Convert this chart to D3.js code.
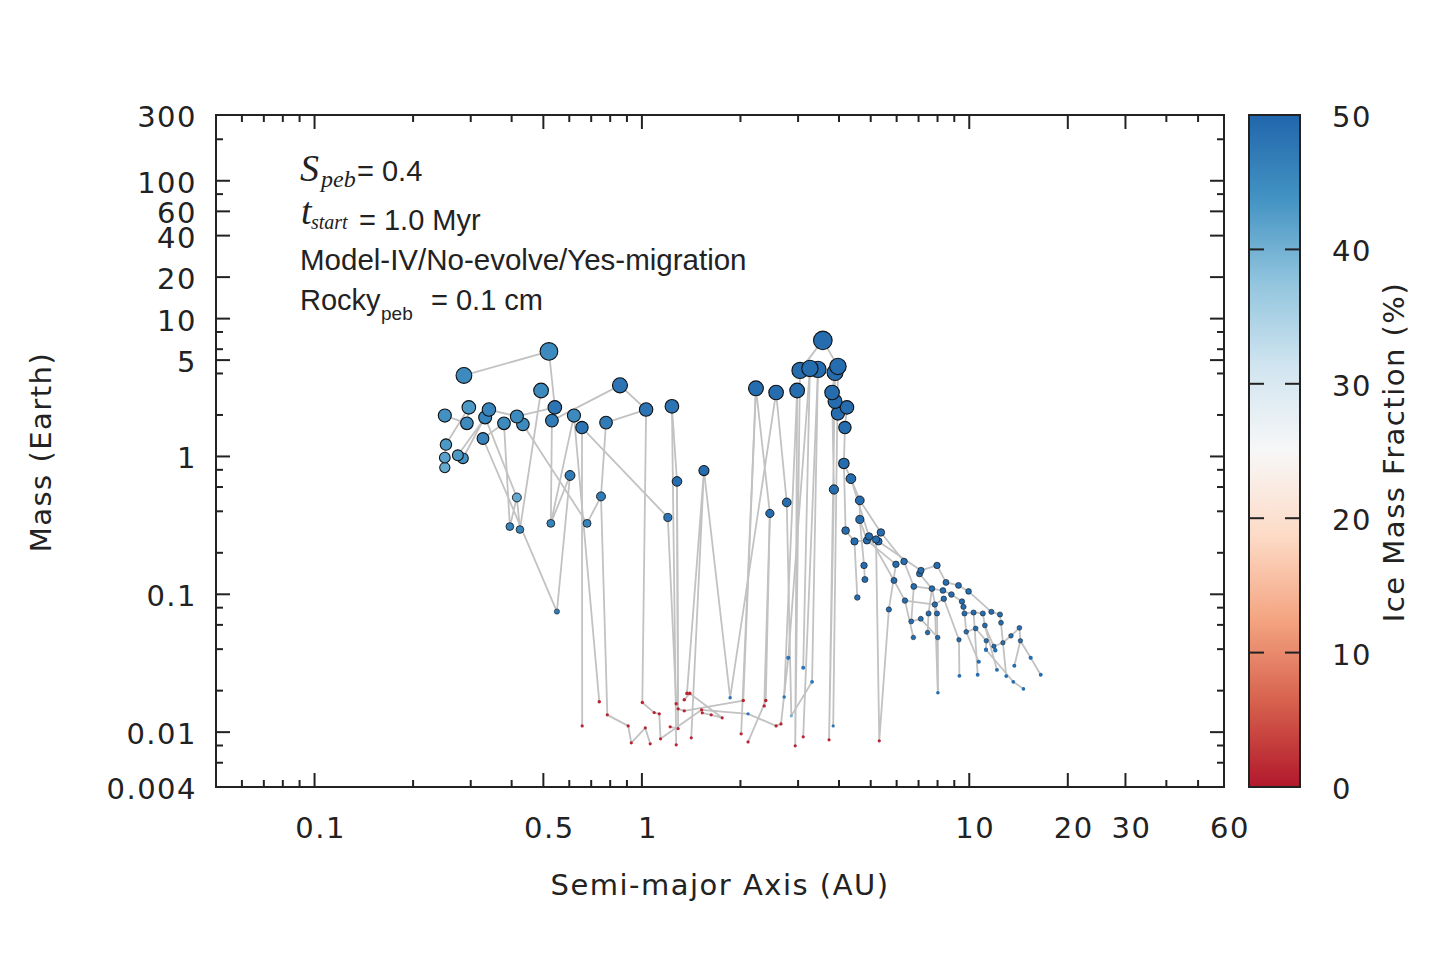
<!DOCTYPE html>
<html>
<head>
<meta charset="utf-8">
<script src="https://cdn.jsdelivr.net/npm/d3@7"></script>
<style>
  body { margin: 0; background: #fff; }
  text { fill: #222; }
</style>
</head>
<body>
<div id="chart"></div>
<script>
// each body: id, semi-major axis (AU), mass (Earth), ice mass fraction (%)
const innerBodies = [
  ["P1", 0.286, 3.87, 45], ["P2", 0.520, 5.78, 45], ["P3", 0.492, 3.01, 45],
  ["P4", 0.857, 3.28, 48], ["P5", 0.296, 2.27, 43], ["P6", 0.341, 2.19, 46],
  ["P7", 0.332, 1.92, 46], ["P8", 0.250, 1.98, 44], ["P9", 0.292, 1.74, 45],
  ["P10", 0.379, 1.74, 45], ["P11", 0.415, 1.95, 45], ["P12", 0.433, 1.71, 45],
  ["P13", 0.542, 2.27, 48], ["P14", 0.531, 1.82, 47], ["P15", 0.620, 1.98, 45],
  ["P16", 0.656, 1.62, 48], ["P17", 0.777, 1.76, 47], ["P18", 1.03, 2.19, 48],
  ["P19", 1.235, 2.31, 48], ["P20", 0.327, 1.35, 46], ["P21", 0.252, 1.22, 43],
  ["P22", 0.250, 0.98, 42], ["P23", 0.274, 1.02, 43], ["P24", 0.284, 0.97, 44],
  ["P25", 0.250, 0.83, 41], ["P26", 0.603, 0.728, 47], ["P27", 1.547, 0.79, 49],
  ["P28", 1.28, 0.659, 49], ["P29", 0.750, 0.513, 47], ["P30", 0.415, 0.504, 41],
  ["P31", 1.20, 0.361, 48], ["P32", 0.395, 0.310, 46], ["P33", 0.424, 0.295, 46],
  ["P34", 0.527, 0.327, 46], ["P35", 0.680, 0.327, 46], ["P36", 0.550, 0.075, 47]
];

const giantBodies = [
  ["P37", 3.57, 6.95, 49], ["P38", 3.04, 4.21, 49], ["P39", 3.26, 4.35, 49],
  ["P40", 3.45, 4.28, 49], ["P41", 3.97, 4.50, 49], ["P42", 3.89, 4.07, 49],
  ["P43", 2.23, 3.12, 49], ["P44", 2.57, 2.91, 49], ["P45", 2.98, 3.01, 49],
  ["P46", 3.81, 2.91, 49], ["P47", 3.89, 2.51, 49], ["P48", 4.23, 2.27, 49],
  ["P49", 3.97, 2.05, 49], ["P50", 4.17, 1.62, 49], ["P51", 4.14, 0.89, 49],
  ["P52", 4.35, 0.69, 49], ["P53", 3.86, 0.576, 49], ["P54", 4.63, 0.48, 49],
  ["P55", 2.77, 0.464, 49], ["P56", 2.46, 0.386, 49], ["P57", 4.63, 0.349, 49]
];

const outerBodies = [
  ["R1", 4.19, 0.290, 49], ["R2", 4.46, 0.242, 49], ["R3", 4.87, 0.246, 49],
  ["R4", 4.94, 0.263, 49], ["R5", 5.19, 0.250, 49], ["R6", 5.28, 0.242, 49],
  ["R7", 5.37, 0.281, 49], ["R8", 4.77, 0.162, 49], ["R9", 4.80, 0.128, 49],
  ["R10", 4.55, 0.0948, 49], ["R11", 5.97, 0.165, 49], ["R12", 6.32, 0.173, 49],
  ["R13", 5.89, 0.126, 49], ["R14", 5.68, 0.0776, 49], ["R15", 7.12, 0.149, 49],
  ["R16", 7.05, 0.141, 49], ["R17", 7.97, 0.162, 49], ["R18", 6.77, 0.114, 49],
  ["R19", 6.36, 0.090, 49], ["R20", 7.69, 0.110, 49], ["R21", 8.49, 0.122, 49],
  ["R22", 9.27, 0.116, 49], ["R23", 9.95, 0.105, 49], ["R24", 8.31, 0.1066, 49],
  ["R25", 8.82, 0.0997, 49], ["R26", 8.36, 0.0928, 49], ["R27", 7.85, 0.0843, 49],
  ["R28", 9.50, 0.0887, 49], ["R29", 9.60, 0.0811, 49], ["R30", 6.65, 0.0635, 49],
  ["R31", 7.11, 0.0664, 49], ["R32", 7.51, 0.0726, 49], ["R33", 7.97, 0.0726, 49],
  ["R34", 6.75, 0.0486, 49], ["R35", 7.46, 0.0528, 49], ["R36", 8.01, 0.0486, 49],
  ["R37", 9.67, 0.0726, 49], ["R38", 10.31, 0.0738, 49], ["R39", 11.0, 0.0726, 49],
  ["R40", 11.68, 0.0746, 49], ["R41", 12.41, 0.0714, 49], ["R42", 9.79, 0.0534, 49],
  ["R43", 10.46, 0.0565, 49], ["R44", 11.16, 0.0594, 49], ["R45", 12.50, 0.0621, 49],
  ["R46", 9.30, 0.0468, 49], ["R47", 11.27, 0.0460, 49], ["R48", 11.25, 0.0396, 49],
  ["R49", 11.89, 0.0420, 49], ["R50", 12.01, 0.0393, 49], ["R51", 12.67, 0.0445, 49],
  ["R52", 13.41, 0.050, 49], ["R53", 14.23, 0.0571, 49], ["R54", 14.33, 0.0460, 49],
  ["R55", 10.69, 0.0324, 49], ["R56", 13.73, 0.0303, 49], ["R57", 15.40, 0.0346, 49],
  ["R58", 12.15, 0.0283, 49], ["R59", 12.97, 0.0255, 49], ["R60", 13.63, 0.0232, 49],
  ["R61", 14.64, 0.0206, 49], ["R62", 16.53, 0.0261, 49], ["R63", 9.33, 0.0256, 49],
  ["R64", 10.61, 0.0261, 49], ["R65", 8.02, 0.0193, 49]
];

const rockyEmbryos = [
  ["B1", 0.657, 0.0111, 1], ["B2", 0.741, 0.0166, 1], ["B3", 0.784, 0.01335, 1],
  ["B4", 0.908, 0.0111, 1], ["B5", 0.928, 0.00836, 1], ["B6", 1.003, 0.0164, 1],
  ["B7", 1.024, 0.01075, 1], ["B8", 1.06, 0.00823, 1], ["B9", 1.09, 0.01387, 1],
  ["B10", 1.13, 0.01358, 1], ["B11", 1.14, 0.00894, 1], ["B12", 1.22, 0.01093, 1],
  ["B13", 1.273, 0.01605, 1], ["B14", 1.29, 0.01476, 1], ["B15", 1.273, 0.00809, 1],
  ["B16", 1.29, 0.01062, 1], ["B17", 1.347, 0.01716, 1], ["B18", 1.347, 0.01427, 1],
  ["B19", 1.373, 0.0191, 1], ["B20", 1.40, 0.0191, 1], ["B21", 1.415, 0.0091, 1],
  ["B22", 1.522, 0.01452, 1], ["B23", 1.529, 0.0138, 1], ["B24", 1.628, 0.01335, 1],
  ["B25", 1.759, 0.0127, 1], ["B26", 2.01, 0.00972, 1], ["B27", 2.04, 0.01696, 1],
  ["B28", 2.11, 0.0085, 1], ["B29", 2.364, 0.0155, 1], ["B30", 2.39, 0.01696, 1],
  ["B31", 2.57, 0.0111, 1], ["B32", 2.66, 0.01148, 1], ["B33", 2.94, 0.00796, 1],
  ["B34", 3.11, 0.00925, 1], ["B35", 3.73, 0.0088, 1], ["B36", 5.31, 0.00865, 1]
];

const smallIcy = [
  ["T1", 1.86, 0.01774, 48], ["T2", 2.11, 0.01358, 48], ["T3", 2.80, 0.0346, 48],
  ["T4", 3.11, 0.0293, 48], ["T5", 3.31, 0.0232, 48], ["T6", 2.72, 0.0180, 48],
  ["T7", 2.86, 0.01313, 40], ["T8", 3.84, 0.0111, 48]
];

// gray connecting tracks, listed as body ids
const tracks = [
  ["P1", "P2", "P13", "P11", "P6", "P24", "P23", "P7", "P30", "P33", "P3"],
  ["P8", "P9", "P5", "P21", "P22", "P25"],
  ["P30", "P32", "P10", "P20", "P36", "P26", "P34", "P15", "B2"],
  ["P34", "P14", "P4", "P18", "P17", "P29", "P35", "P12"],
  ["P29", "B3", "B4", "B5", "B7", "B8"],
  ["B1", "P16", "P31", "B13"],
  ["P18", "B6", "B9", "B10", "B11", "B22", "T2", "B31", "B32", "T3", "P39"],
  ["P19", "B15"],
  ["P28", "B16", "B12"],
  ["P19", "P28", "B14", "B18", "B27", "P43", "P56", "B30", "B28"],
  ["B17", "B20", "B25", "B24", "B23"],
  ["B19", "P27", "B21"],
  ["P27", "T1", "P44", "P55", "T7", "T5", "P40"],
  ["B26", "P43"], ["B29", "P56"],
  ["P45", "B33", "P38", "P37", "P41", "T8"],
  ["P40", "B34"], ["P39", "T4"], ["T6", "P45"],
  ["P42", "B35", "P53", "P46"],
  ["P41", "P42", "P46", "P47", "P49", "P48", "P50", "P51", "P52", "P54", "P57", "R3", "R11", "R14", "B36", "R5"],
  ["P51", "R1", "R2", "R10"],
  ["P52", "R4", "R13", "R19", "R34"],
  ["P54", "R7", "R12", "R18", "R30", "R31", "R36", "R65", "R27", "R26", "R46", "R63"],
  ["P57", "R8", "R9"], ["R2", "R3"], ["R19", "R27"],
  ["R5", "R6", "R15", "R17", "R21", "R22", "R23", "R40", "R41", "R45", "R59"],
  ["R15", "R16", "R20", "R32", "R35"], ["R20", "R33", "R65"],
  ["R24", "R25", "R28", "R29", "R37", "R42", "R55"], ["R18", "R24"],
  ["R37", "R38", "R39", "R44", "R58"], ["R38", "R64"],
  ["R42", "R43", "R47", "R48", "R60", "R61"],
  ["R44", "R50", "R49", "R51", "R52", "R53", "R54", "R57", "R62"], ["R56", "R54"]
];

const xMajor = [0.1, 0.5, 1, 10, 20, 30, 60];
const xMinor = [0.06, 0.07, 0.08, 0.09, 0.2, 0.3, 0.4, 0.6, 0.7, 0.8, 0.9,
                2, 3, 4, 5, 6, 7, 8, 9, 40, 50];
const yMajor = [0.004, 0.01, 0.1, 1, 5, 10, 20, 40, 60, 100, 300];
const yMinor = [0.006, 0.008, 0.02, 0.04, 0.06, 0.08, 0.2, 0.4, 0.6, 0.8,
                2, 4, 6, 8, 80, 200];
const iceTicks = [0, 10, 20, 30, 40, 50];
const iceColors = ["#b2182b", "#d6604d", "#f4a582", "#fddbc7", "#f7f7f7",
                   "#d1e5f0", "#92c5de", "#4393c3", "#2166ac"];

const W = 1440, H = 960;
const plot = { left: 216, right: 1224, top: 115, bottom: 787 };
const bar = { left: 1249, right: 1300 };
const ink = "#222";

const svg = d3.select("#chart").append("svg")
  .attr("width", W).attr("height", H);

// wide Verdana-like lettering for the axis texts
const label = sel => sel
  .attr("font-family", "DejaVu Sans")
  .attr("font-size", 29)
  .attr("letter-spacing", 1.5);

const x = d3.scaleLog().domain([0.05, 60]).range([plot.left, plot.right]);
const y = d3.scaleLog().domain([0.004, 300]).range([plot.bottom, plot.top]);
const r = d3.scalePow().exponent(0.28).domain([0, 1]).range([0, 5.4]);
const ice = d3.scaleLinear()
  .domain(d3.range(iceColors.length).map(i => i * 50 / (iceColors.length - 1)))
  .range(iceColors);
const iceY = d3.scaleLinear().domain([0, 50]).range([plot.bottom, plot.top]);

const bodies = [].concat(innerBodies, giantBodies, outerBodies, rockyEmbryos, smallIcy)
  .map(([id, a, m, f]) => ({ id, a, m, f }));
const byId = new Map(bodies.map(d => [d.id, d]));

// tracks
const line = d3.line().x(d => x(d.a)).y(d => y(d.m));
svg.append("g").selectAll("path")
  .data(tracks)
  .join("path")
  .attr("d", t => line(t.map(id => byId.get(id))))
  .attr("fill", "none")
  .attr("stroke", "#c2c2c2")
  .attr("stroke-width", 1.8)
  .attr("stroke-linejoin", "round");

// bodies, small first so the big ones sit on top; the tiniest get no outline
svg.append("g").selectAll("circle")
  .data(bodies.slice().sort((p, q) => p.m - q.m))
  .join("circle")
  .attr("cx", d => x(d.a))
  .attr("cy", d => y(d.m))
  .attr("r", d => Math.max(1.6, r(d.m)))
  .attr("fill", d => ice(d.f))
  .attr("stroke", d => r(d.m) < 2.2 ? "none" : "#111")
  .attr("stroke-width", d => Math.min(1.1, r(d.m) * 0.2));

// frame + ticks on all four sides
const axes = svg.append("g").attr("stroke", ink).attr("stroke-width", 2);
const tk = (v, len, scale, side) => {
  if (side === "b") axes.append("line").attr("x1", scale(v)).attr("x2", scale(v)).attr("y1", plot.bottom).attr("y2", plot.bottom - len);
  if (side === "t") axes.append("line").attr("x1", scale(v)).attr("x2", scale(v)).attr("y1", plot.top).attr("y2", plot.top + len);
  if (side === "l") axes.append("line").attr("y1", scale(v)).attr("y2", scale(v)).attr("x1", plot.left).attr("x2", plot.left + len);
  if (side === "r") axes.append("line").attr("y1", scale(v)).attr("y2", scale(v)).attr("x1", plot.right).attr("x2", plot.right - len);
};
xMajor.forEach(v => { tk(v, 14, x, "b"); tk(v, 14, x, "t"); });
xMinor.forEach(v => { tk(v, 7, x, "b"); tk(v, 7, x, "t"); });
yMajor.forEach(v => { tk(v, 14, y, "l"); tk(v, 14, y, "r"); });
yMinor.forEach(v => { tk(v, 7, y, "l"); tk(v, 7, y, "r"); });
axes.append("rect")
  .attr("x", plot.left).attr("y", plot.top)
  .attr("width", plot.right - plot.left).attr("height", plot.bottom - plot.top)
  .attr("fill", "none");

// tick labels
svg.append("g").selectAll("text")
  .data(xMajor).join("text")
  .attr("x", d => x(d) + 6).attr("y", 838)
  .attr("text-anchor", "middle")
  .call(label)
  .text(d => d);
svg.append("g").selectAll("text")
  .data(yMajor).join("text")
  .attr("x", 197).attr("y", d => y(d) + 12)
  .attr("text-anchor", "end")
  .call(label)
  .text(d => d);

// axis titles
svg.append("text")
  .attr("x", 720).attr("y", 895).attr("text-anchor", "middle")
  .call(label)
  .text("Semi-major Axis (AU)");
svg.append("text")
  .attr("transform", "translate(51,452) rotate(-90)").attr("text-anchor", "middle")
  .call(label)
  .text("Mass (Earth)");

// colorbar
const grad = svg.append("defs").append("linearGradient")
  .attr("id", "iceGrad").attr("x1", 0).attr("x2", 0).attr("y1", 1).attr("y2", 0);
grad.selectAll("stop")
  .data(iceColors).join("stop")
  .attr("offset", (d, i) => i / (iceColors.length - 1))
  .attr("stop-color", d => d);
svg.append("rect")
  .attr("x", bar.left).attr("y", plot.top)
  .attr("width", bar.right - bar.left).attr("height", plot.bottom - plot.top)
  .attr("fill", "url(#iceGrad)")
  .attr("stroke", ink).attr("stroke-width", 2);
const barTicks = svg.append("g").attr("stroke", ink).attr("stroke-width", 2);
iceTicks.forEach(v => {
  barTicks.append("line").attr("x1", bar.left).attr("x2", bar.left + 15).attr("y1", iceY(v)).attr("y2", iceY(v));
  barTicks.append("line").attr("x1", bar.right).attr("x2", bar.right - 15).attr("y1", iceY(v)).attr("y2", iceY(v));
});
svg.append("g").selectAll("text")
  .data(iceTicks).join("text")
  .attr("x", 1332).attr("y", d => iceY(d) + 12)
  .call(label)
  .text(d => d);
svg.append("text")
  .attr("transform", "translate(1404,452) rotate(-90)").attr("text-anchor", "middle")
  .call(label)
  .text("Ice Mass Fraction (%)");

// annotation block
const serif = "Liberation Serif";
const sans = "Liberation Sans";
const note = svg.append("g");
const put = (tx, px, py, fam, size, italic) => note.append("text")
  .attr("x", px).attr("y", py)
  .attr("font-family", fam).attr("font-size", size)
  .attr("font-style", italic ? "italic" : "normal")
  .text(tx);
put("S", 300, 181, serif, 38, true);
put("peb", 321, 187, serif, 24, true);
put("= 0.4", 357, 181, sans, 29, false);
put("t", 301, 224, serif, 38, true);
put("start", 311, 229, serif, 20, true);
put("= 1.0 Myr", 359, 230, sans, 29, false);
put("Model-IV/No-evolve/Yes-migration", 300, 270, sans, 29.5, false);
put("Rocky", 300, 310, sans, 29, false);
put("peb", 381, 320, sans, 19, false);
put("= 0.1 cm", 431, 310, sans, 29, false);
</script>
</body>
</html>
